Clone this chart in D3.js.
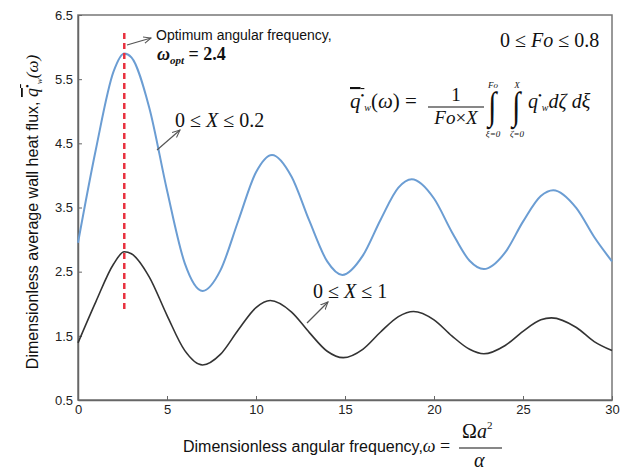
<!DOCTYPE html>
<html>
<head>
<meta charset="utf-8">
<script src="https://cdn.jsdelivr.net/npm/d3@7"></script>
<style>
  body { margin: 0; background: #fff; }
  svg { display: block; }
  .axis text { font-family: "Liberation Sans", Arial, sans-serif; font-size: 13px; fill: #222; }
  .axis path, .axis line { stroke: #666; }
  .sans { font-family: "Liberation Sans", Arial, sans-serif; fill: #111; }
  .math { font-family: "Liberation Serif", "Times New Roman", serif; fill: #111; }
</style>
</head>
<body>
<svg width="628" height="467"></svg>
<script>
// data
var omegaThin = [0, 1, 2, 2.6, 3, 4, 5, 6, 7, 8, 9, 10, 10.9, 12, 13, 14, 14.85, 16, 17, 18, 18.75, 20, 21, 22, 22.8, 24, 25, 26, 26.7, 28, 29, 30];
var fluxThin  = [2.95, 4.4, 5.62, 5.9, 5.84, 5.06, 3.77, 2.63, 2.2, 2.52, 3.29, 4.05, 4.32, 3.98, 3.29, 2.66, 2.45, 2.75, 3.31, 3.81, 3.94, 3.64, 3.12, 2.67, 2.54, 2.8, 3.28, 3.68, 3.77, 3.49, 3.04, 2.66];
var omegaFull = [0, 1, 2, 2.6, 3, 4, 5, 6, 7, 8, 9, 10, 10.8, 12, 13, 14, 14.9, 16, 17, 18, 18.85, 20, 21, 22, 22.8, 24, 25, 26, 26.6, 28, 29, 30];
var fluxFull  = [1.39, 2.03, 2.62, 2.81, 2.78, 2.42, 1.82, 1.27, 1.045, 1.21, 1.59, 1.94, 2.05, 1.87, 1.55, 1.26, 1.16, 1.29, 1.56, 1.8, 1.88, 1.75, 1.5, 1.29, 1.22, 1.35, 1.57, 1.75, 1.78, 1.63, 1.41, 1.27];
var xTicks = [0, 5, 10, 15, 20, 25, 30];
var yTicks = [0.5, 1.5, 2.5, 3.5, 4.5, 5.5, 6.5];
var omegaOpt = 2.6, optFrom = 1.87, optTo = 6.22;

var svg = d3.select("svg"),
    margin = {top: 15, right: 16, bottom: 67, left: 78},
    width = svg.attr("width") - margin.left - margin.right,
    height = svg.attr("height") - margin.top - margin.bottom,
    g = svg.append("g")
      .attr("transform", "translate(" + margin.left + "," + margin.top + ")");

var x = d3.scaleLinear().domain([0, 30]).range([0, width]),
    y = d3.scaleLinear().domain([0.5, 6.5]).range([height, 0]);

// arrow head
svg.append("defs").append("marker")
    .attr("id", "arr")
    .attr("viewBox", "0 -5 10 10")
    .attr("refX", 9).attr("refY", 0)
    .attr("markerWidth", 7).attr("markerHeight", 7)
    .attr("orient", "auto")
  .append("path")
    .attr("d", "M0,-4L9,0L0,4")
    .attr("fill", "none")
    .attr("stroke", "#555")
    .attr("stroke-width", 1.2);

// frame
g.append("rect")
    .attr("width", width).attr("height", height)
    .attr("fill", "none").attr("stroke", "#777").attr("stroke-width", 1.5);

// axes
g.append("g")
    .attr("class", "axis axis--x")
    .attr("transform", "translate(0," + height + ")")
    .call(d3.axisBottom(x).tickValues(xTicks).tickSizeInner(-4).tickSizeOuter(0).tickPadding(5))
    .call(function(a) { a.select(".domain").attr("stroke-width", 1.5); });

g.append("g")
    .attr("class", "axis axis--y")
    .call(d3.axisLeft(y).tickValues(yTicks).tickFormat(d3.format(".1f")).tickSizeInner(-4).tickSizeOuter(0).tickPadding(5))
    .call(function(a) { a.select(".domain").attr("stroke-width", 1.5); });

// curves
var line = d3.line()
    .x(function(d) { return x(d[0]); })
    .y(function(d) { return y(d[1]); })
    .curve(d3.curveMonotoneX);

g.append("path")
    .datum(d3.zip(omegaThin, fluxThin))
    .attr("fill", "none")
    .attr("stroke", "#6b9dd3")
    .attr("stroke-width", 2)
    .attr("d", line);

g.append("path")
    .datum(d3.zip(omegaFull, fluxFull))
    .attr("fill", "none")
    .attr("stroke", "#333")
    .attr("stroke-width", 1.6)
    .attr("d", line);

// optimum line
g.append("line")
    .attr("x1", x(omegaOpt)).attr("x2", x(omegaOpt))
    .attr("y1", y(optTo)).attr("y2", y(optFrom))
    .attr("stroke", "#e8323f")
    .attr("stroke-width", 2.5)
    .attr("stroke-dasharray", "6,4");

// arrows
function arrow(x1, y1, x2, y2) {
  svg.append("line")
      .attr("x1", x1).attr("y1", y1).attr("x2", x2).attr("y2", y2)
      .attr("stroke", "#555").attr("stroke-width", 1.2)
      .attr("marker-end", "url(#arr)");
}
arrow(127, 45, 151, 38);
arrow(157, 150, 180, 130);
arrow(307, 323, 328, 302);

// axis titles
var yl = svg.append("text")
    .attr("class", "sans")
    .attr("transform", "translate(38,212) rotate(-90)")
    .attr("text-anchor", "middle")
    .style("font-size", "16px");
yl.append("tspan").text("Dimensionless average wall heat flux, ");
yl.append("tspan").attr("class", "math").style("font-style", "italic").style("font-size", "18px")
    .style("text-decoration", "overline").text("q");
yl.append("tspan").attr("class", "math").attr("dy", -7).style("font-size", "11px")
    .style("text-decoration", "overline").text("•");
yl.append("tspan").attr("class", "math").attr("dy", 11).style("font-size", "9px").style("font-style", "italic").text("w");
yl.append("tspan").attr("class", "math").attr("dy", -4).style("font-size", "17px").style("font-style", "italic").text("(ω)");

var xl = svg.append("text")
    .attr("class", "sans")
    .attr("x", 183).attr("y", 452)
    .style("font-size", "16px");
xl.append("tspan").text("Dimensionless angular frequency,");
xl.append("tspan").attr("class", "math").style("font-style", "italic").style("font-size", "18px").text("ω");
xl.append("tspan").attr("class", "math").style("font-size", "18px").text(" =");

var num = svg.append("text").attr("class", "math").attr("x", 462).attr("y", 438).style("font-size", "20px");
num.append("tspan").text("Ω");
num.append("tspan").style("font-style", "italic").text("a");
num.append("tspan").attr("dy", -9).style("font-size", "11px").text("2");
svg.append("line").attr("x1", 459).attr("x2", 502).attr("y1", 448).attr("y2", 448)
    .attr("stroke", "#111").attr("stroke-width", 1.2);
svg.append("text").attr("class", "math").attr("x", 474).attr("y", 467)
    .style("font-size", "20px").style("font-style", "italic").text("α");

// optimum label
svg.append("text").attr("class", "sans").attr("x", 156).attr("y", 40)
    .style("font-size", "14px").text("Optimum angular frequency,");
var wo = svg.append("text").attr("class", "math").attr("x", 157).attr("y", 60)
    .style("font-size", "18px").style("font-weight", "bold");
wo.append("tspan").style("font-style", "italic").text("ω");
wo.append("tspan").attr("dy", 4).style("font-size", "11px").style("font-style", "italic").text("opt");
wo.append("tspan").attr("dy", -4).text(" = 2.4");

// range labels
function range(xp, yp, v, hi) {
  var t = svg.append("text").attr("class", "math").attr("x", xp).attr("y", yp).style("font-size", "20px");
  t.append("tspan").text("0 ≤ ");
  t.append("tspan").style("font-style", "italic").text(v);
  t.append("tspan").text(" ≤ " + hi);
}
range(500, 47, "Fo", "0.8");
range(175, 127, "X", "0.2");
range(313, 298, "X", "1");

// formula
var f = svg.append("text").attr("class", "math").attr("x", 350).attr("y", 108).style("font-size", "21px");
f.append("tspan").style("font-style", "italic").style("text-decoration", "overline").text("q");
f.append("tspan").attr("dy", -9).style("font-size", "11px").style("text-decoration", "overline").text("•");
f.append("tspan").attr("dy", 12).style("font-size", "10px").style("font-style", "italic").text("w");
f.append("tspan").attr("dy", -3).text("(");
f.append("tspan").style("font-style", "italic").text("ω");
f.append("tspan").text(") =");

svg.append("text").attr("class", "math").attr("x", 456).attr("y", 101)
    .attr("text-anchor", "middle").style("font-size", "19px").text("1");
svg.append("line").attr("x1", 428).attr("x2", 484).attr("y1", 107).attr("y2", 107)
    .attr("stroke", "#111").attr("stroke-width", 1.1);
var den = svg.append("text").attr("class", "math").attr("x", 456).attr("y", 124)
    .attr("text-anchor", "middle").style("font-size", "19px");
den.append("tspan").style("font-style", "italic").text("Fo");
den.append("tspan").text("×");
den.append("tspan").style("font-style", "italic").text("X");

[[488, "Fo", "ξ=0"], [512, "X", "ζ=0"]].forEach(function(d) {
  svg.append("text").attr("class", "math")
      .attr("transform", "translate(" + d[0] + ",119) scale(1,1.3)")
      .style("font-size", "30px").text("∫");
  svg.append("text").attr("class", "math").attr("x", d[0] + 5).attr("y", 88)
      .attr("text-anchor", "middle").style("font-size", "9px").style("font-style", "italic").text(d[1]);
  svg.append("text").attr("class", "math").attr("x", d[0] + 5).attr("y", 137)
      .attr("text-anchor", "middle").style("font-size", "9px").style("font-style", "italic").text(d[2]);
});

var f2 = svg.append("text").attr("class", "math").attr("x", 528).attr("y", 108).style("font-size", "20px");
f2.append("tspan").style("font-style", "italic").text("q");
f2.append("tspan").attr("dy", -9).style("font-size", "11px").text("•");
f2.append("tspan").attr("dy", 12).style("font-size", "10px").style("font-style", "italic").text("w");
f2.append("tspan").attr("dy", -3).style("font-style", "italic").text("dζ dξ");
</script>
</body>
</html>
